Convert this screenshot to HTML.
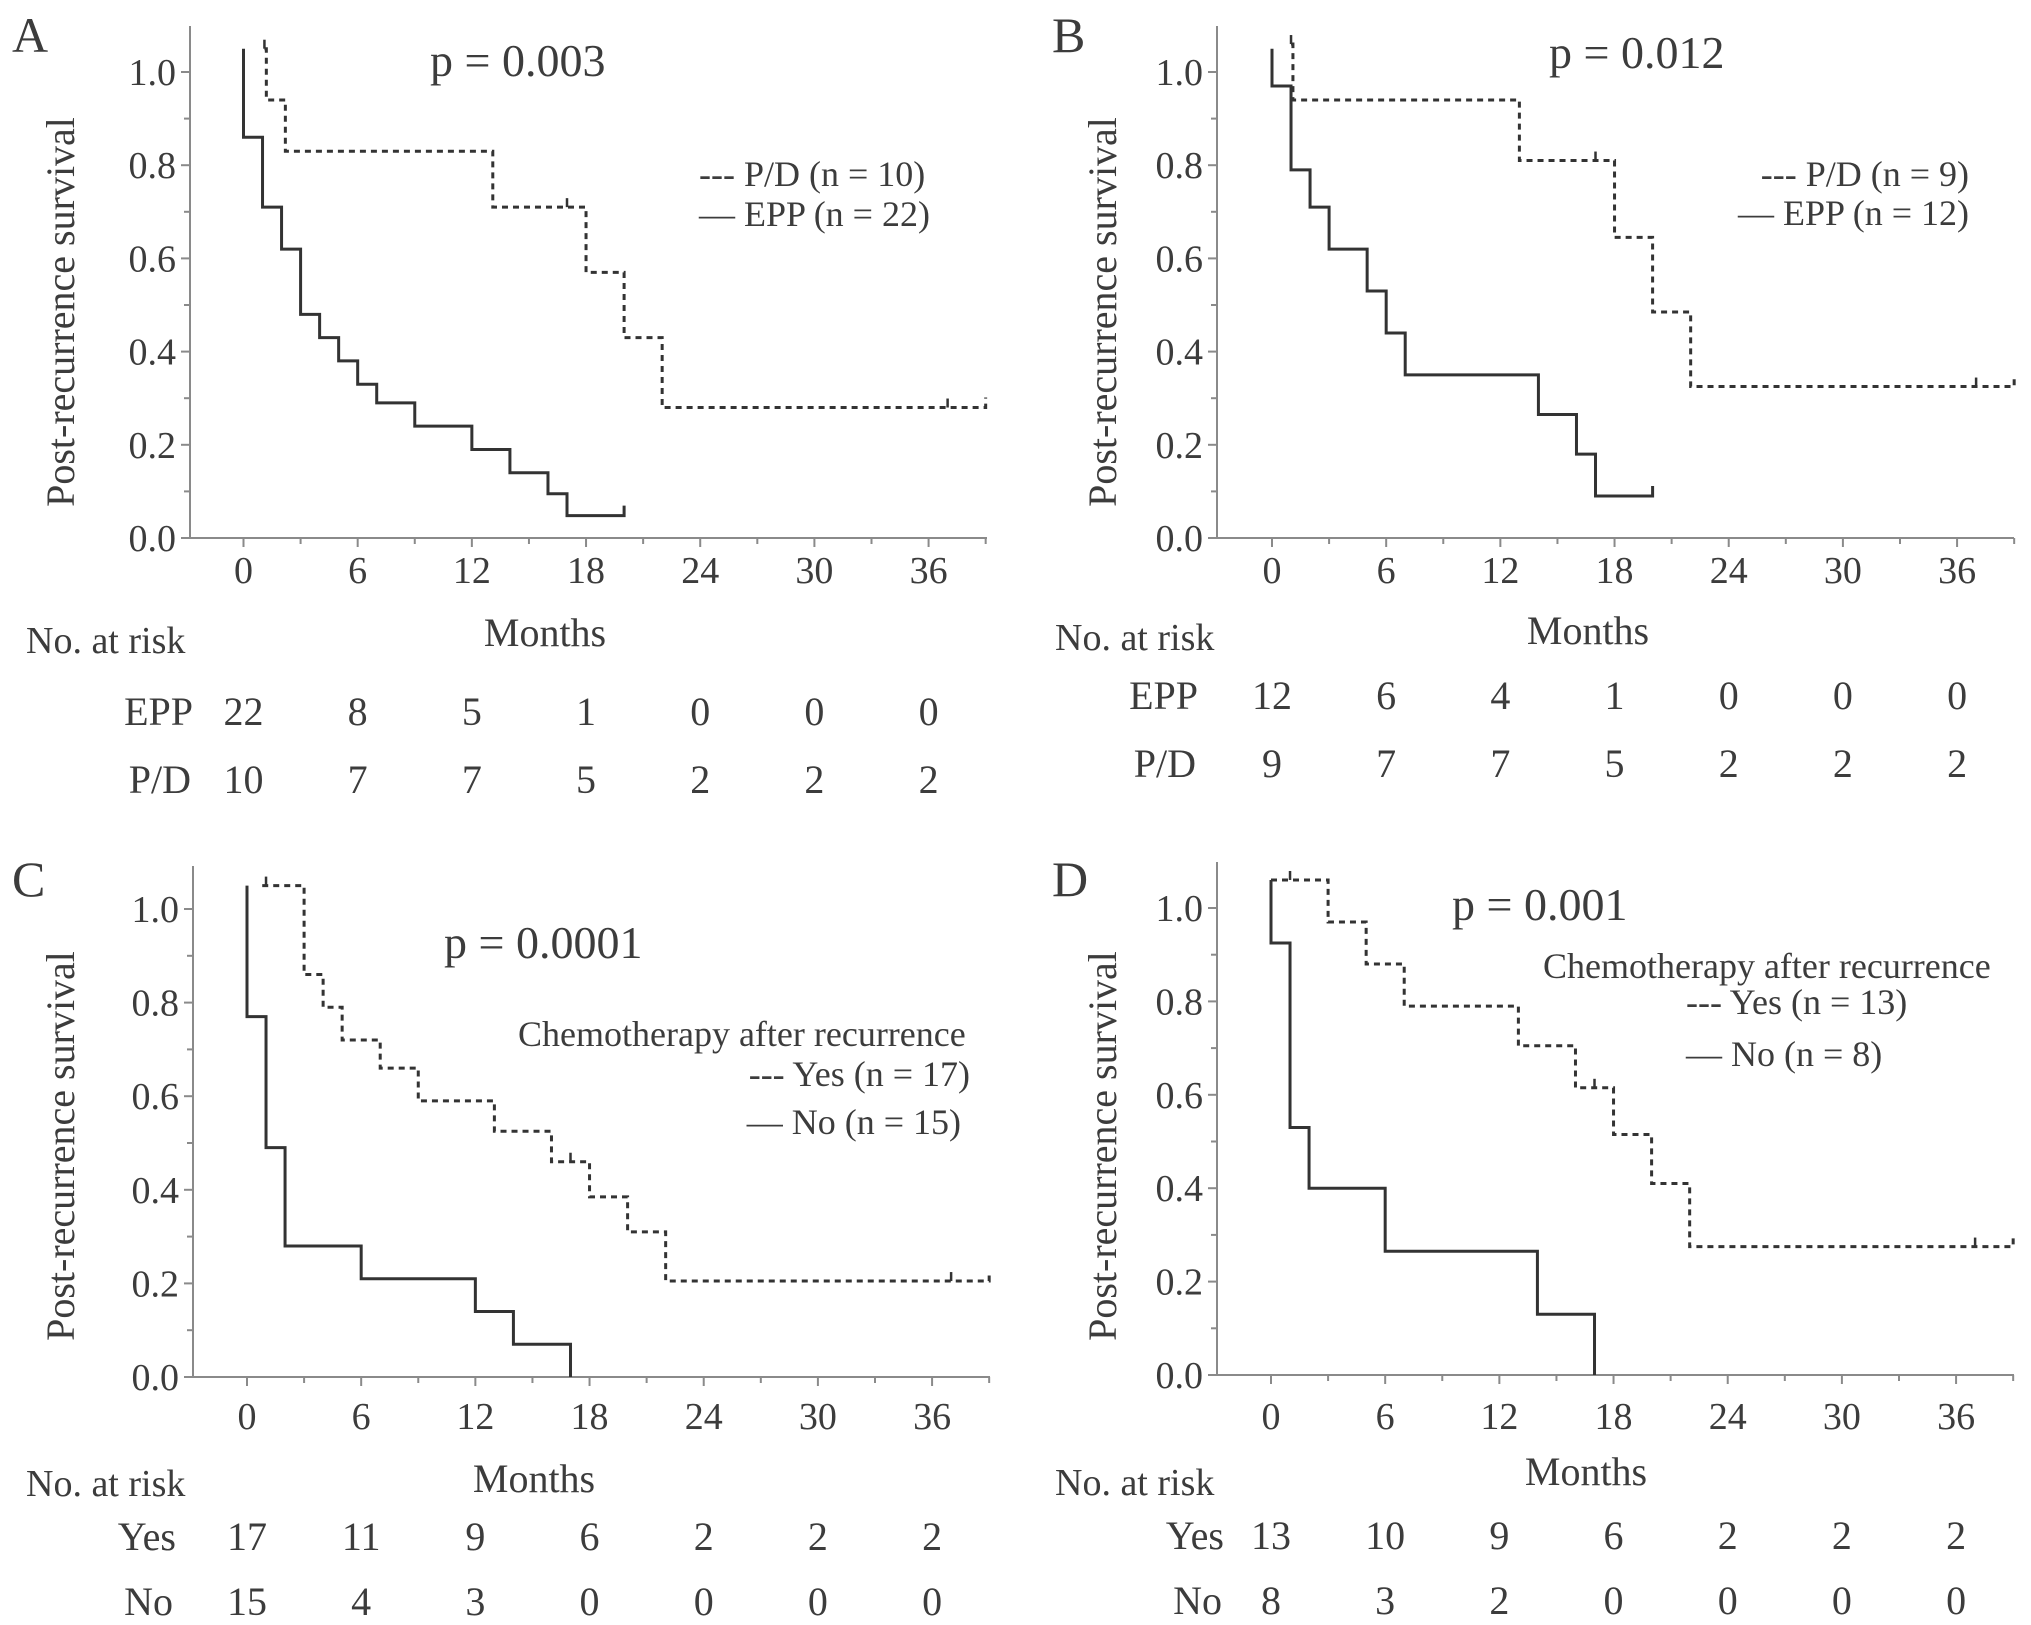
<!DOCTYPE html>
<html><head><meta charset="utf-8"><style>
html,body{margin:0;padding:0;background:#fff;}
svg{display:block;font-family:"Liberation Serif",serif;}
text{fill:#3c3c3c;}
</style></head><body>
<svg id="fig" width="2031" height="1625" viewBox="0 0 2031 1625"></svg>
<script>
// ---- data ----
const xTicks = [0,6,12,18,24,30,36];
const yTicks = [0.0,0.2,0.4,0.6,0.8,1.0];
// Panel A
const aEppT = [0,0,1,2,3,4,5,6,7,9,12,14,16,17];
const aEppS = [1.05,0.86,0.71,0.62,0.48,0.43,0.38,0.33,0.29,0.24,0.19,0.14,0.095,0.048];
const aEppEnd = 20;
const aPdT = [1.1,1.2,2.2,13.1,18,20,22];
const aPdS = [1.05,0.94,0.83,0.71,0.57,0.43,0.28];
const aPdEnd = 39;
const aPdCensor = [1.1,17,37];
const aRiskEpp = ["22","8","5","1","0","0","0"];
const aRiskPd = ["10","7","7","5","2","2","2"];
// Panel B
const bEppT = [0,0,1,2,3,5,6,7,14,16,17];
const bEppS = [1.05,0.97,0.79,0.71,0.62,0.53,0.44,0.35,0.265,0.18,0.09];
const bEppEnd = 20;
const bPdT = [1,1.1,13,18,20,22];
const bPdS = [1.06,0.94,0.81,0.645,0.485,0.325];
const bPdEnd = 39;
const bPdCensor = [1,17,37];
const bRiskEpp = ["12","6","4","1","0","0","0"];
const bRiskPd = ["9","7","7","5","2","2","2"];
// Panel C
const cNoT = [0,0,1,2,6,12,14,17];
const cNoS = [1.05,0.77,0.49,0.28,0.21,0.14,0.07,0.0];
const cNoEnd = 17;
const cYesT = [0.8,3,4,5,7,9,13,16,18,20,22];
const cYesS = [1.05,0.86,0.79,0.72,0.66,0.59,0.525,0.46,0.385,0.31,0.205];
const cYesEnd = 39;
const cYesCensor = [1,17,37];
const cRiskYes = ["17","11","9","6","2","2","2"];
const cRiskNo = ["15","4","3","0","0","0","0"];
// Panel D
const dNoT = [0,0,1,2,6,14,17];
const dNoS = [1.06,0.925,0.53,0.40,0.265,0.13,0.0];
const dNoEnd = 17;
const dYesT = [0,3,5,7,13,16,18,20,22];
const dYesS = [1.06,0.97,0.88,0.79,0.705,0.615,0.515,0.41,0.275];
const dYesEnd = 39;
const dYesCensor = [1,17,37];
const dRiskYes = ["13","10","9","6","2","2","2"];
const dRiskNo = ["8","3","2","0","0","0","0"];

const NS = "http://www.w3.org/2000/svg";
const svg = document.getElementById('fig');
function mk(tag, attrs, parent, txt){
  const e = document.createElementNS(NS, tag);
  for (const k in attrs) e.setAttribute(k, attrs[k]);
  if (txt !== undefined) e.textContent = txt;
  (parent||svg).appendChild(e);
  return e;
}

function panel(P){
  const g = mk('g', {});
  
  
  const X = t => P.x0 + t * 19.03;
  const Y = s => P.y0 - s * (P.y0 - P.y1);
  const ya = mk('line', {x1:P.ax, y1:P.top, x2:P.ax, y2:P.y0, stroke:'#8a8a8a', 'stroke-width':2}, g);
  
  
  const xa = mk('line', {x1:P.ax, y1:P.y0, x2:P.right, y2:P.y0, stroke:'#8a8a8a', 'stroke-width':2}, g);
  
  
  for (let v = 0; v <= 10; v++) {
    const yy = Y(v/10);
    mk('line', {x1:P.ax - (v%2===0?9:6), y1:yy, x2:P.ax, y2:yy, stroke:'#8a8a8a', 'stroke-width':2}, g);
  }
  yTicks.forEach(v => {
    const t = mk('text', {x:P.ax - 14, y:Y(v) + 13, 'font-size':38, 'text-anchor':'end'}, g, v.toFixed(1));
    
    
  });
  for (let m = -3; m <= 39; m += 3) {
    if (X(m) < P.ax - 1) continue;
    mk('line', {x1:X(m), y1:P.y0, x2:X(m), y2:P.y0 + (m%6===0?9:6), stroke:'#8a8a8a', 'stroke-width':2}, g);
  }
  xTicks.forEach(m => {
    const t = mk('text', {x:X(m), y:P.tickY, 'font-size':38, 'text-anchor':'middle'}, g, String(m));
    
    
  });
  const mt = mk('text', {x:P.monthsX, y:P.monthsY, 'font-size':40, 'text-anchor':'middle'}, g, 'Months');
  
  
  const yt = mk('text', {x:0, y:0, 'font-size':40, 'text-anchor':'middle', transform:'translate(' + P.ytX + ',' + P.ytY + ') rotate(-90)'}, g, 'Post-recurrence survival');
  
  
  const lt = mk('text', {x:P.letX, y:P.letY, 'font-size':50}, g, P.id);
  
  
  const pv = mk('text', {x:P.pX, y:P.pY, 'font-size':46}, g, P.p);
  
  
  function curve(T, S, end, dashed, censor, name){
    let d = 'M' + X(T[0]) + ' ' + Y(S[0]);
    for (let i = 1; i < T.length; i++) {
      d += ' H' + X(T[i]) + ' V' + Y(S[i]);
    }
    d += ' H' + X(end);
    const last = S[S.length-1];
    if (last > 0) d += ' V' + (Y(last) - 10);
    const c = mk('path', {d:d, fill:'none', stroke:'#333', 'stroke-width':3, 'stroke-dasharray': dashed ? '6,5' : 'none'}, g);
    
    
    (censor||[]).forEach(ct => {
      let s = S[0];
      for (let i = 0; i < T.length; i++) if (T[i] <= ct) s = S[i];
      mk('line', {x1:X(ct), y1:Y(s), x2:X(ct), y2:Y(s) - 9, stroke:'#333', 'stroke-width':2.5}, g);
    });
  }
  P.curves.forEach(cv => curve(cv.T, cv.S, cv.end, cv.dashed, cv.censor, cv.name));
  P.legend.forEach(L => {
    const t = mk('text', {x:L.x, y:L.y, 'font-size':36, 'text-anchor':L.anchor||'start'}, g, L.text);
    
    
  });
  const rt = mk('text', {x:P.riskX, y:P.riskY, 'font-size':38}, g, 'No. at risk');
  
  
  P.rows.forEach(R => {
    const l = mk('text', {x:R.lx, y:R.y, 'font-size':40, 'text-anchor':'end'}, g, R.label);
    
    
    R.vals.forEach((v, i) => {
      const t = mk('text', {x:X(xTicks[i]), y:R.y, 'font-size':40, 'text-anchor':'middle'}, g, v);
      
      
    });
  });
}

panel({id:'A', ax:190, x0:243.5, y0:538, y1:72, top:26, right:987, tickY:583,
  monthsX:545, monthsY:646, ytX:74, ytY:312, letX:12, letY:52, pX:430, pY:76, p:'p = 0.003',
  curves:[{T:aEppT,S:aEppS,end:aEppEnd,dashed:false,name:'curve-epp'},
          {T:aPdT,S:aPdS,end:aPdEnd,dashed:true,censor:aPdCensor,name:'curve-pd'}],
  legend:[{x:699,y:186,text:'--- P/D (n = 10)'},{x:699,y:226,text:'—  EPP (n = 22)'}],
  riskX:26, riskY:653, rows:[{label:'EPP',lx:193,y:725,vals:aRiskEpp},{label:'P/D',lx:191,y:793,vals:aRiskPd}]});
panel({id:'B', ax:1217, x0:1272, y0:538, y1:72, top:26, right:2014, tickY:583,
  monthsX:1588, monthsY:644, ytX:1116, ytY:312, letX:1052, letY:52, pX:1549, pY:68, p:'p = 0.012',
  curves:[{T:bEppT,S:bEppS,end:bEppEnd,dashed:false,name:'curve-epp'},
          {T:bPdT,S:bPdS,end:bPdEnd,dashed:true,censor:bPdCensor,name:'curve-pd'}],
  legend:[{x:1969,y:186,text:'--- P/D (n = 9)',anchor:'end'},{x:1969,y:225,text:'—  EPP (n = 12)',anchor:'end'}],
  riskX:1055, riskY:650, rows:[{label:'EPP',lx:1198,y:709,vals:bRiskEpp},{label:'P/D',lx:1196,y:777,vals:bRiskPd}]});
panel({id:'C', ax:193, x0:247, y0:1377, y1:909, top:866, right:990, tickY:1429,
  monthsX:534, monthsY:1492, ytX:74, ytY:1146, letX:12, letY:896, pX:444, pY:958, p:'p = 0.0001',
  curves:[{T:cNoT,S:cNoS,end:cNoEnd,dashed:false,name:'curve-no-chemo'},
          {T:cYesT,S:cYesS,end:cYesEnd,dashed:true,censor:cYesCensor,name:'curve-chemo'}],
  legend:[{x:518,y:1046,text:'Chemotherapy after recurrence'},{x:970,y:1086,text:'--- Yes (n = 17)',anchor:'end'},{x:961,y:1134,text:'—  No (n = 15)',anchor:'end'}],
  riskX:26, riskY:1496, rows:[{label:'Yes',lx:176,y:1550,vals:cRiskYes},{label:'No',lx:173,y:1615,vals:cRiskNo}]});
panel({id:'D', ax:1217, x0:1271, y0:1375, y1:908, top:862, right:2014, tickY:1429,
  monthsX:1586, monthsY:1485, ytX:1116, ytY:1146, letX:1052, letY:896, pX:1452, pY:920, p:'p = 0.001',
  curves:[{T:dNoT,S:dNoS,end:dNoEnd,dashed:false,name:'curve-no-chemo'},
          {T:dYesT,S:dYesS,end:dYesEnd,dashed:true,censor:dYesCensor,name:'curve-chemo'}],
  legend:[{x:1543,y:978,text:'Chemotherapy after recurrence'},{x:1686,y:1014,text:'--- Yes (n = 13)'},{x:1686,y:1066,text:'—  No (n = 8)'}],
  riskX:1055, riskY:1495, rows:[{label:'Yes',lx:1224,y:1549,vals:dRiskYes},{label:'No',lx:1222,y:1614,vals:dRiskNo}]});
</script>
</body></html>
